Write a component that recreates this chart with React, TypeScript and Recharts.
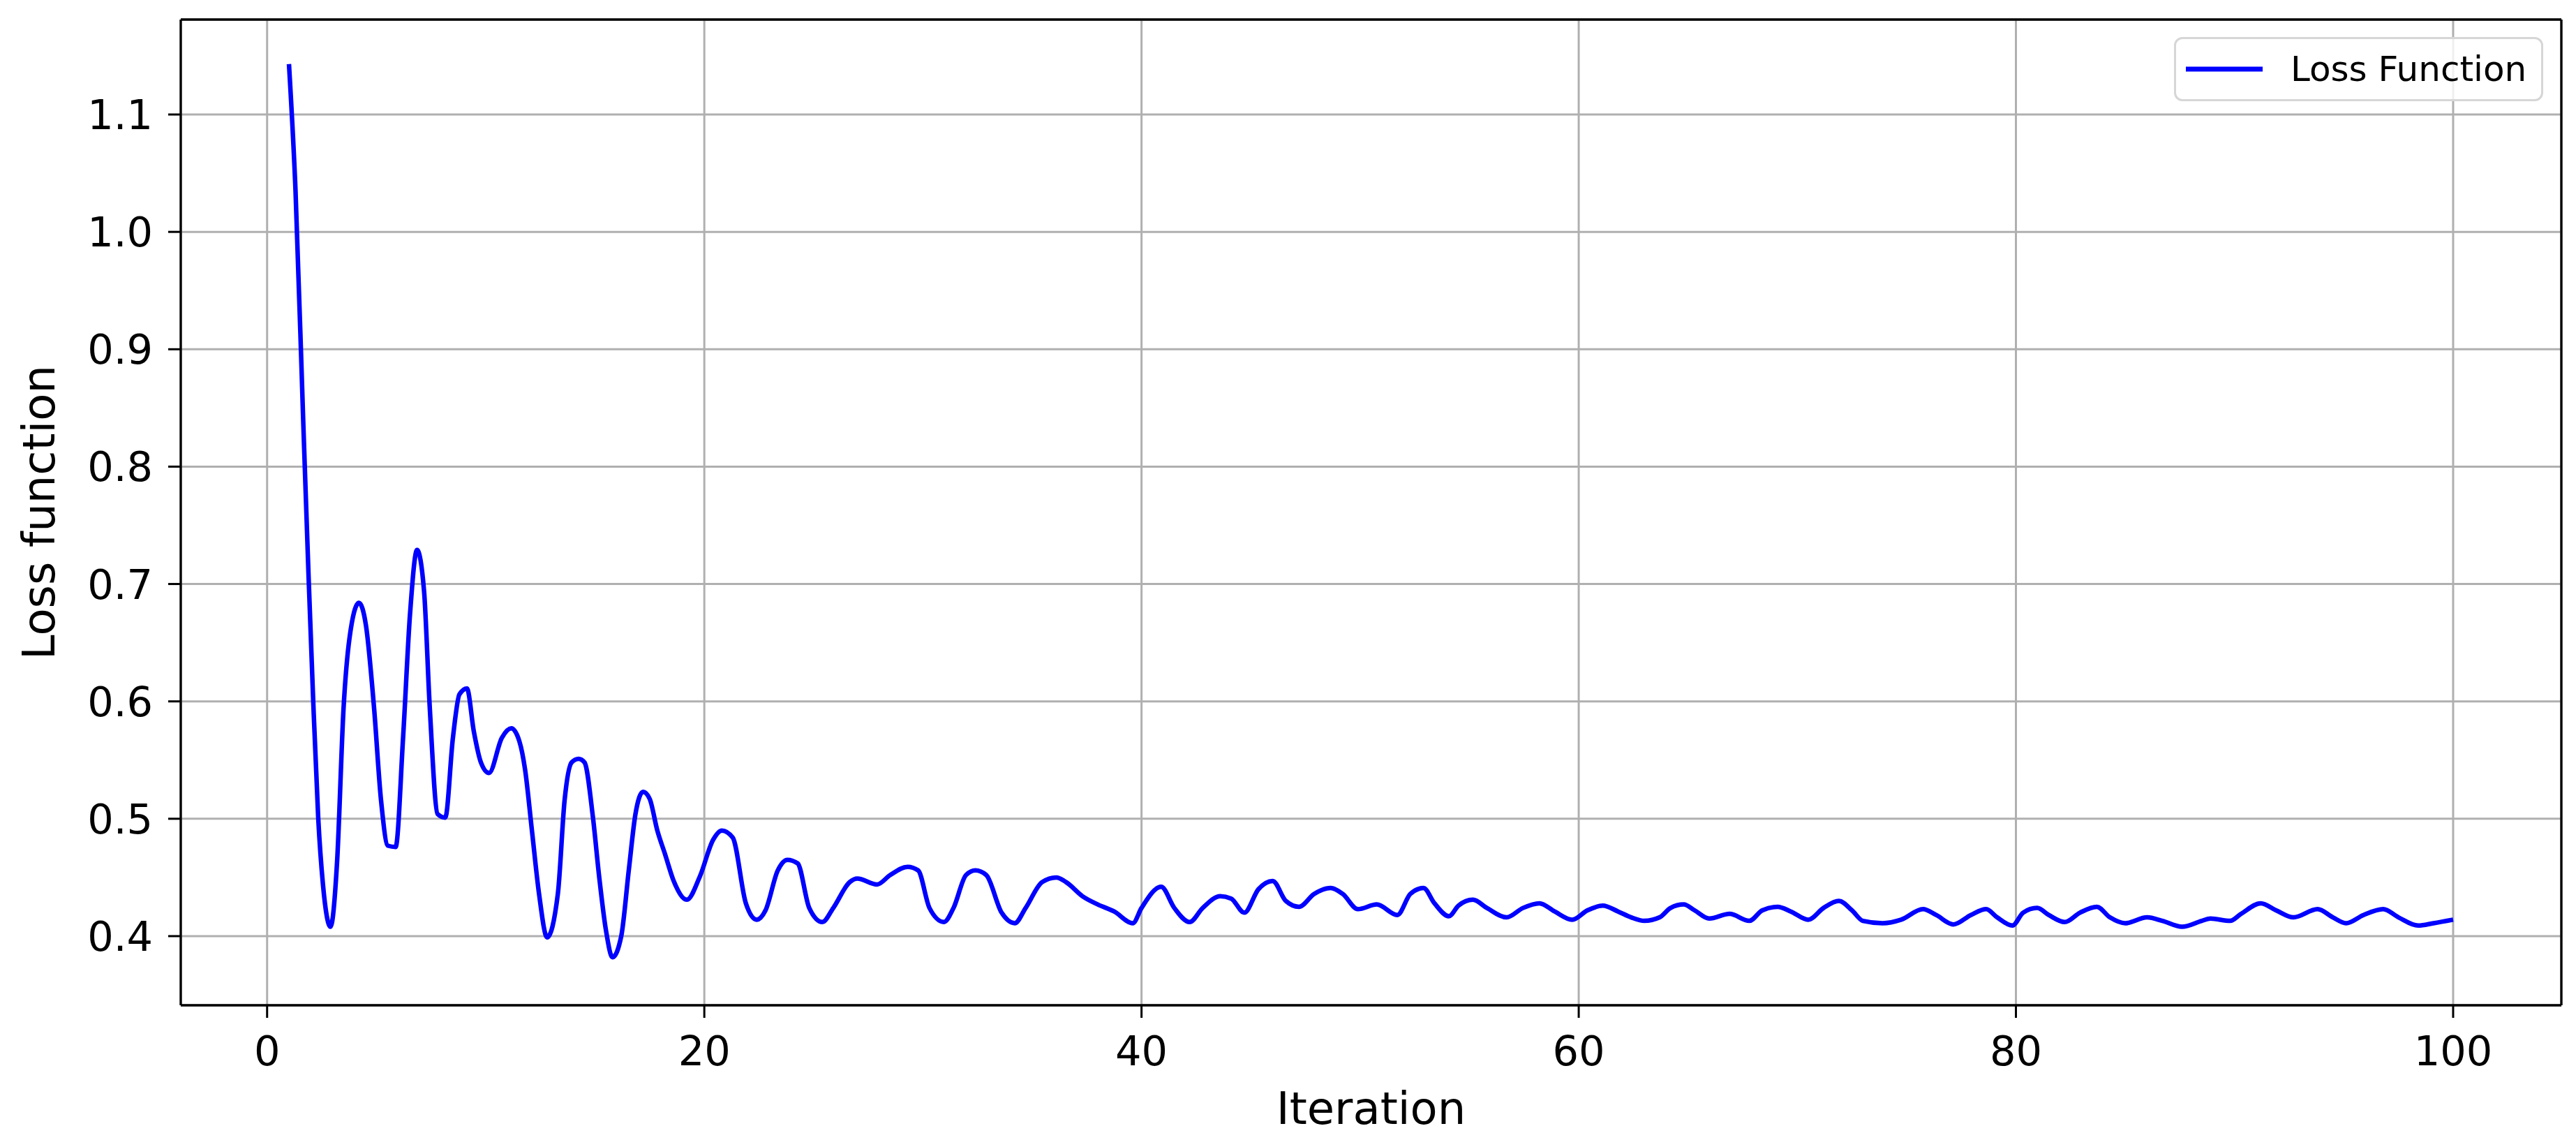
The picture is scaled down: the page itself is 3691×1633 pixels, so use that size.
import React from 'react';
import { LineChart, Line, XAxis, YAxis, CartesianGrid, Legend, Label, ReferenceLine } from 'recharts';

const iterations: number[] = [
  1.0, 1.3, 1.65, 1.9, 2.1, 2.34, 2.55, 2.9, 3.2, 3.5, 3.77, 4.2, 4.52, 4.89, 5.21, 5.53, 5.88,
  6.22, 6.54, 6.86, 7.18, 7.44, 7.8, 8.15, 8.5, 8.8, 9.14, 9.46, 9.78, 10.15, 10.74, 11.17, 11.54,
  11.8, 12.12, 12.44, 12.81, 13.3, 13.61, 13.93, 14.25, 14.52, 14.9, 15.2, 15.5, 15.8, 16.2, 16.55,
  16.85, 17.2, 17.5, 17.85, 18.2, 18.6, 19.2, 19.8, 20.4, 20.8, 21.3, 21.9, 22.4, 22.8, 23.36, 23.8,
  24.27, 24.8, 25.4, 25.9, 26.65, 27.0, 27.9, 28.5, 29.3, 29.78, 30.3, 30.96, 31.4, 31.97, 32.4,
  32.9, 33.6, 34.2, 34.7, 35.45, 36.1, 36.55, 37.3, 38.0, 38.75, 39.6, 40.0, 40.9, 41.5, 42.2, 42.8,
  43.6, 44.1, 44.7, 45.35, 46.0, 46.6, 47.2, 47.9, 48.65, 49.2, 49.9, 50.76, 51.7, 52.3, 52.9, 53.4,
  54.06, 54.5, 55.16, 55.8, 56.7, 57.45, 58.2, 58.9, 59.7, 60.4, 61.1, 61.8, 62.4, 63.0, 63.7, 64.2,
  64.8, 65.3, 65.97, 66.9, 67.8, 68.4, 69.1, 69.7, 70.5, 71.2, 71.9, 72.5, 73.0, 73.9, 74.75, 75.75,
  76.35, 77.14, 77.94, 78.64, 79.14, 79.84, 80.33, 80.97, 81.5, 82.23, 82.93, 83.7, 84.3, 85.0, 86.0,
  86.7, 87.6, 88.5, 88.9, 89.8, 90.3, 91.2, 91.9, 92.7, 93.8, 94.5, 95.1, 95.9, 96.8, 97.5, 98.4,
  99.1, 100.0,
];

const lossValues: number[] = [
  1.143, 1.035, 0.84, 0.705, 0.605, 0.5, 0.445, 0.408, 0.463, 0.595, 0.654, 0.684, 0.665, 0.595,
  0.516, 0.477, 0.476, 0.569, 0.675, 0.729, 0.694, 0.595, 0.504, 0.501, 0.569, 0.606, 0.611, 0.574,
  0.548, 0.539, 0.569, 0.577, 0.566, 0.542, 0.489, 0.436, 0.399, 0.436, 0.516, 0.548, 0.551, 0.548,
  0.502, 0.449, 0.405, 0.382, 0.4, 0.457, 0.504, 0.523, 0.517, 0.49, 0.47, 0.447, 0.431, 0.451,
  0.482, 0.49, 0.484, 0.428, 0.414, 0.422, 0.456, 0.465, 0.462, 0.424, 0.412, 0.424, 0.446, 0.449,
  0.444, 0.452, 0.459, 0.456, 0.424, 0.412, 0.424, 0.452, 0.456, 0.452, 0.42, 0.411, 0.424, 0.446,
  0.45, 0.446, 0.434, 0.427, 0.421, 0.411, 0.424, 0.442, 0.424, 0.412, 0.424, 0.434, 0.432, 0.42,
  0.44, 0.447, 0.43, 0.425, 0.436, 0.441, 0.436, 0.423, 0.427, 0.418, 0.436, 0.441, 0.428, 0.417,
  0.426, 0.431, 0.424, 0.416, 0.424, 0.428, 0.421, 0.414, 0.422, 0.426, 0.421, 0.416, 0.413, 0.416,
  0.424, 0.427, 0.422, 0.415, 0.419, 0.413, 0.422, 0.425, 0.421, 0.414, 0.424, 0.43, 0.422, 0.413,
  0.411, 0.414, 0.423, 0.418, 0.41, 0.418, 0.423, 0.416, 0.409, 0.42, 0.424, 0.418, 0.412, 0.42,
  0.425, 0.416, 0.411, 0.416, 0.413, 0.408, 0.413, 0.415, 0.413, 0.419, 0.428, 0.422, 0.416, 0.423,
  0.416, 0.411, 0.418, 0.423, 0.416, 0.409, 0.411, 0.414,
];

const xTicks: number[] = [0, 20, 40, 60, 80, 100];
const yTicks: number[] = [0.4, 0.5, 0.6, 0.7, 0.8, 0.9, 1.0, 1.1];
const xDomain: [number, number] = [-3.95, 104.95];
const yDomain: [number, number] = [0.3411, 1.1809];
const seriesName = 'Loss Function';
const xAxisLabel = 'Iteration';
const yAxisLabel = 'Loss function';

const data = iterations.map((it, i) => ({ iteration: it, loss: lossValues[i] }));

const FONT = '"DejaVu Sans", Verdana, sans-serif';
const TICK_STYLE = { fontSize: 59, fill: '#000000', fontFamily: FONT };
const SPINE = { stroke: '#000000', strokeWidth: 3.3 };

const LegendBox = () => (
  <div
    style={{
      boxSizing: 'border-box',
      width: 529,
      height: 92,
      border: '3px solid #d6d6d6',
      borderRadius: 12,
      background: 'rgba(255,255,255,0.8)',
      display: 'flex',
      alignItems: 'center',
      fontFamily: FONT,
    }}
  >
    <svg width={164} height={20} style={{ display: 'block' }}>
      <line x1={14} x2={124} y1={10} y2={10} stroke="#0000ff" strokeWidth={7} />
    </svg>
    <span style={{ fontSize: 50, color: '#000000', lineHeight: 1, whiteSpace: 'nowrap' }}>{seriesName}</span>
  </div>
);

export default function App() {
  return (
    <div style={{ position: 'absolute', left: 0, top: 0, width: 3691, height: 1633, background: '#ffffff' }}>
      <LineChart
        width={3691}
        height={1633}
        data={data}
        margin={{ top: 28, right: 21, bottom: 73, left: 59 }}
      >
        <CartesianGrid stroke="#b0b0b0" strokeWidth={3} />
        <XAxis
          dataKey="iteration"
          type="number"
          domain={xDomain}
          allowDataOverflow
          ticks={xTicks}
          interval={0}
          height={120}
          stroke="#000000"
          axisLine={SPINE}
          tickLine={{ stroke: '#000000', strokeWidth: 3 }}
          tickSize={18}
          tickMargin={26}
          tick={TICK_STYLE}
        >
          <Label
            content={(props: any) => {
              const vb = props.viewBox || {};
              return (
                <text
                  x={vb.x + vb.width / 2}
                  y={vb.y + 170}
                  textAnchor="middle"
                  fontSize={64}
                  fontFamily={FONT}
                  fill="#000000"
                >
                  {xAxisLabel}
                </text>
              );
            }}
          />
        </XAxis>
        <YAxis
          type="number"
          domain={yDomain}
          allowDataOverflow
          ticks={yTicks}
          interval={0}
          width={200}
          stroke="#000000"
          axisLine={SPINE}
          tickLine={{ stroke: '#000000', strokeWidth: 3 }}
          tickSize={18}
          tickMargin={22}
          tick={TICK_STYLE}
          tickFormatter={(v: number) => v.toFixed(1)}
        >
          <Label
            content={(props: any) => {
              const vb = props.viewBox || {};
              const cx = vb.x + 19;
              const cy = vb.y + vb.height / 2;
              return (
                <text
                  x={0}
                  y={0}
                  transform={`translate(${cx},${cy}) rotate(-90)`}
                  textAnchor="middle"
                  fontSize={64}
                  fontFamily={FONT}
                  fill="#000000"
                >
                  {yAxisLabel}
                </text>
              );
            }}
          />
        </YAxis>
        <ReferenceLine y={yDomain[1]} stroke="#000000" strokeWidth={3.3} ifOverflow="visible" />
        <ReferenceLine x={xDomain[1]} stroke="#000000" strokeWidth={3.3} ifOverflow="visible" />
        <Legend
          layout="vertical"
          align="center"
          verticalAlign="middle"
          wrapperStyle={{ position: 'absolute', top: 53, left: 3115, width: 529, height: 92 }}
          content={() => <LegendBox />}
        />
        <Line
          type="monotone"
          dataKey="loss"
          name={seriesName}
          stroke="#0000ff"
          strokeWidth={6.5}
          dot={false}
          activeDot={false}
          isAnimationActive={false}
        />
      </LineChart>
    </div>
  );
}
